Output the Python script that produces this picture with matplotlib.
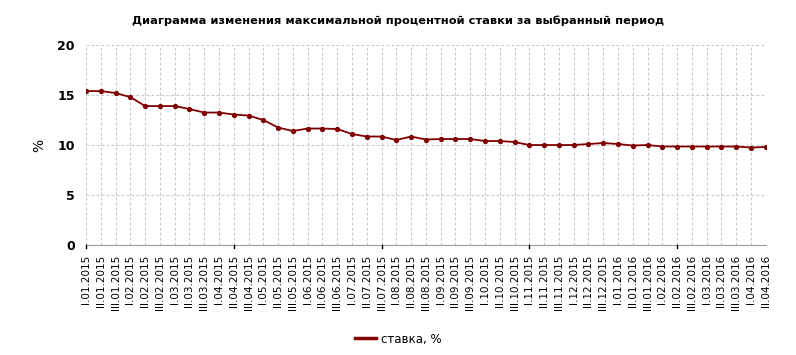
import matplotlib.pyplot as plt
from matplotlib.lines import Line2D

# period labels (decades of each month)
months = ['01.2015', '02.2015', '03.2015', '04.2015', '05.2015', '06.2015',
          '07.2015', '08.2015', '09.2015', '10.2015', '11.2015', '12.2015',
          '01.2016', '02.2016', '03.2016', '04.2016']
decades = ['I', 'II', 'III']
periods = [f'{d}.{m}' for m in months for d in decades][:47]

rate = [15.4, 15.4, 15.2, 14.8, 13.9, 13.9, 13.9, 13.6, 13.25, 13.25,
        13.05, 12.95, 12.5, 11.75, 11.4, 11.65, 11.65, 11.6, 11.1, 10.85,
        10.85, 10.5, 10.85, 10.55, 10.6, 10.6, 10.6, 10.4, 10.4, 10.3,
        10.0, 10.0, 10.0, 10.0, 10.1, 10.2, 10.1, 9.95, 10.0, 9.85,
        9.85, 9.85, 9.85, 9.85, 9.85, 9.75, 9.8]

color = '#800000'

fig = plt.figure(figsize=(7.96, 3.55), dpi=100)
ax = fig.add_axes([0.108, 0.31, 0.854, 0.563])

x = list(range(len(periods)))
ax.plot(x, rate, color=color, lw=1.3, marker='o', ms=2.8, zorder=3)

ax.set_xlim(0, len(periods) - 1)
ax.set_ylim(0, 20)
ax.set_yticks([0, 5, 10, 15, 20])
ax.set_xticks(x)
ax.set_xticklabels(periods, rotation=90, fontsize=7.5)
ax.tick_params(axis='x', length=0, pad=7)
ax.tick_params(axis='y', length=0, pad=8, labelsize=9)
for lbl in ax.get_yticklabels():
    lbl.set_fontweight('bold')

# major ticks every 10 points
for i in range(0, len(periods), 10):
    ax.plot([i, i], [0, -0.35], color='black', lw=1, clip_on=False, zorder=4)

ax.grid(True, color='#c8c8c8', linestyle='--', linewidth=0.8, dashes=(2.5, 2))
for side in ['top', 'right', 'left']:
    ax.spines[side].set_visible(False)
ax.spines['bottom'].set_color('#a0a0a0')

ax.set_ylabel('%', fontsize=10, labelpad=8)

fig.suptitle('Диаграмма изменения максимальной процентной ставки за выбранный период',
             fontsize=8.2, fontweight='bold', y=0.955)

handle = Line2D([], [], color=color, lw=2.5)
fig.legend([handle], ['ставка, %'], loc='center', bbox_to_anchor=(0.5, 0.045),
           frameon=False, fontsize=8.5, handlelength=1.8, handletextpad=0.4)

fig.savefig('out.png', dpi=100)
